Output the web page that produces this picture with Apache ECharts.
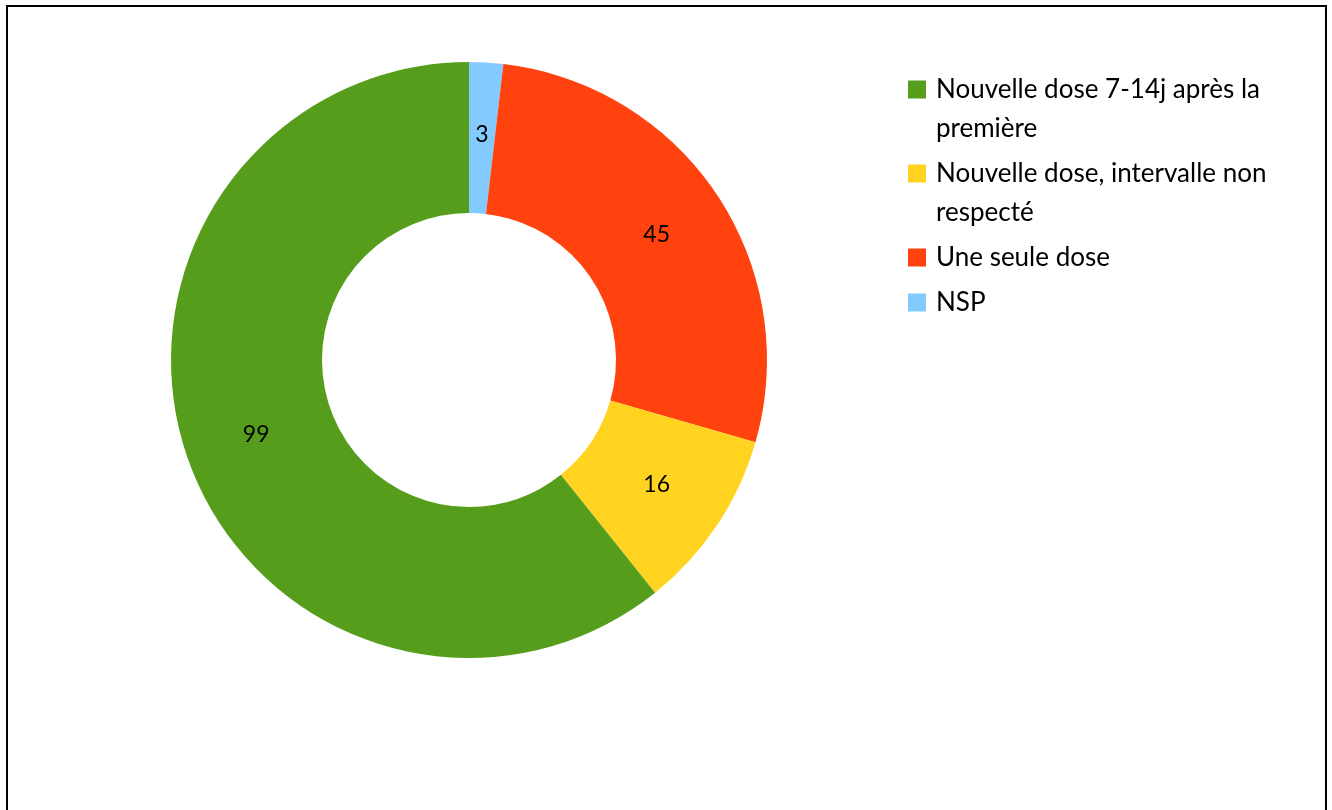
<!DOCTYPE html>
<html>
<head>
<meta charset="utf-8">
<script src="https://cdn.jsdelivr.net/npm/echarts@6/dist/echarts.min.js"></script>
<style>
  html, body { margin: 0; padding: 0; background: #fff; }
  #chart { position: absolute; left: 0; top: 0; width: 1332px; height: 810px; }
  #frame { position: absolute; left: 6px; top: 5px; width: 1321px; height: 820px; border: 2px solid #000; box-sizing: border-box; pointer-events: none; }
</style>
</head>
<body>
<div id="chart"></div>
<div id="frame"></div>
<script>
// categories in legend order
const categories = [
  "Nouvelle dose 7-14j après la première",
  "Nouvelle dose, intervalle non respecté",
  "Une seule dose",
  "NSP"
];
const values = [99, 16, 45, 3];
const colors = ["#579d1c", "#ffd320", "#ff420e", "#83caff"];
// how the legend text wraps
const legendLines = [
  ["Nouvelle dose 7-14j après la", "première"],
  ["Nouvelle dose, intervalle non", "respecté"],
  ["Une seule dose"],
  ["NSP"]
];

// slices go clockwise from 12 o'clock: NSP, Une seule dose, intervalle, 7-14j
const sliceOrder = [3, 2, 1, 0];

const font = "Lato, 'Open Sans', sans-serif";

const rich = {
  t: { fontSize: 26, fontFamily: font, color: "#000", lineHeight: 39 },
  g: { width: 10, height: 18 },
  i: { width: 28, height: 18 }
};
colors.forEach((c, k) => {
  rich["s" + k] = { width: 18, height: 18, backgroundColor: c };
});

const chart = echarts.init(document.getElementById("chart"));
chart.setOption({
  animation: false,
  color: colors,
  legend: {
    orient: "vertical",
    left: 898,
    top: 65,
    itemGap: 6,
    itemWidth: 0,
    itemHeight: 0,
    itemStyle: { opacity: 0 },
    selectedMode: false,
    data: categories,
    formatter: name => {
      const k = categories.indexOf(name);
      return legendLines[k]
        .map((line, j) => (j === 0 ? "{s" + k + "|}{g|}" : "{i|}") + "{t|" + line + "}")
        .join("\n");
    },
    textStyle: { rich: rich, fontSize: 26, lineHeight: 39 }
  },
  series: [
    {
      type: "pie",
      center: [469, 360],
      radius: [147, 298],
      startAngle: 90,
      clockwise: true,
      avoidLabelOverlap: false,
      label: {
        show: true,
        position: "inside",
        formatter: "{c}",
        fontSize: 23,
        fontFamily: font,
        color: "#000"
      },
      labelLine: { show: false },
      emphasis: { disabled: true },
      data: sliceOrder.map(k => ({
        name: categories[k],
        value: values[k],
        itemStyle: { color: colors[k] }
      }))
    }
  ]
});
</script>
</body>
</html>
